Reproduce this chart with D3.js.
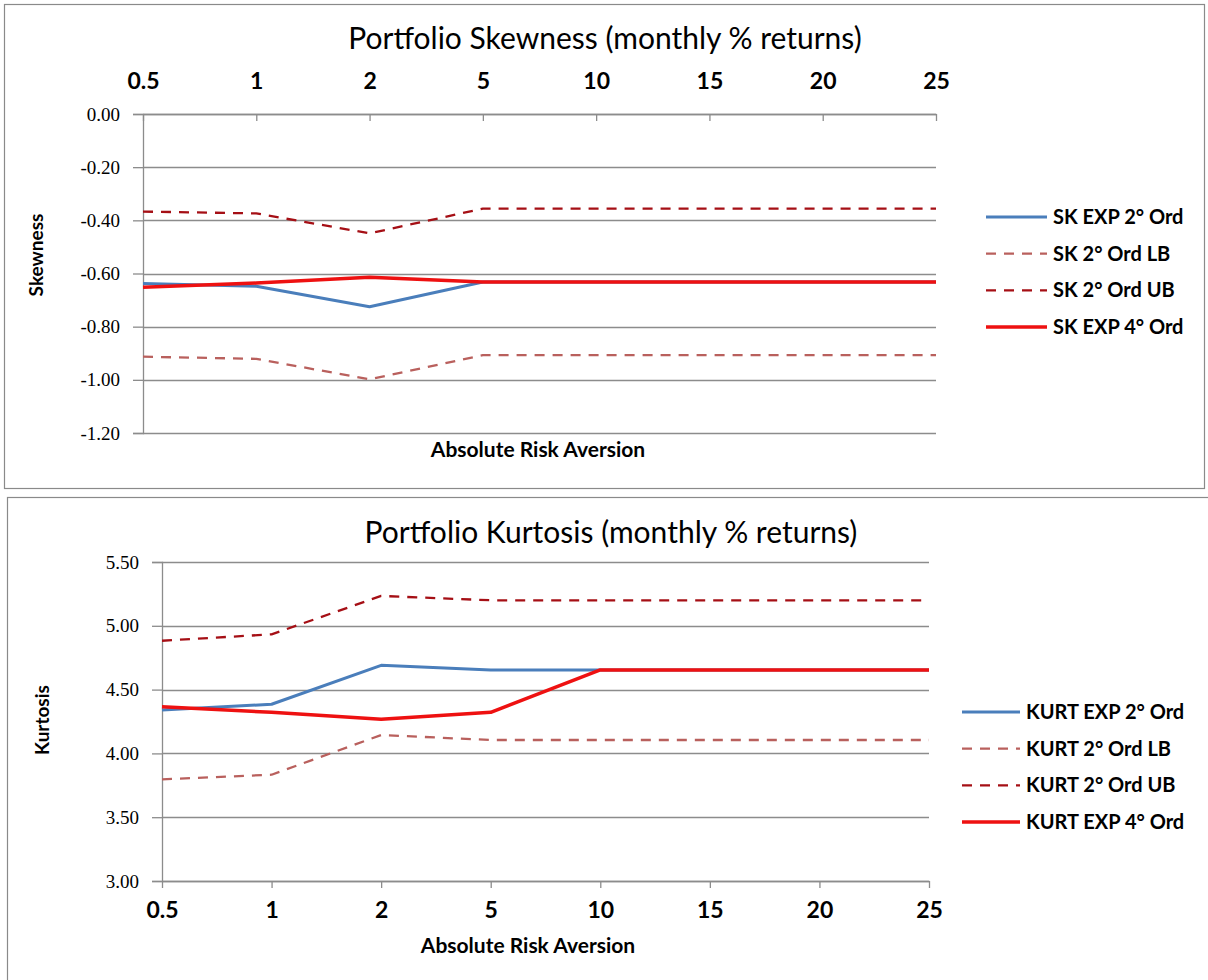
<!DOCTYPE html>
<html>
<head>
<meta charset="utf-8">
<script src="https://cdn.jsdelivr.net/npm/d3@7"></script>
<style>
  body { margin: 0; background: #fff; }
  svg text { fill: #000; }
</style>
</head>
<body>
<div id="chart"></div>
<script>
// categories (absolute risk aversion)
var xLabels = ["0.5", "1", "2", "5", "10", "15", "20", "25"];

// skewness series
var skExp2 = [-0.638, -0.648, -0.725, -0.632, -0.632, -0.632, -0.632, -0.632];
var skLB   = [-0.913, -0.921, -0.998, -0.907, -0.907, -0.907, -0.907, -0.907];
var skUB   = [-0.367, -0.374, -0.449, -0.356, -0.356, -0.356, -0.356, -0.356];
var skExp4 = [-0.652, -0.636, -0.614, -0.632, -0.632, -0.632, -0.632, -0.632];
var skTicks = [0, -0.2, -0.4, -0.6, -0.8, -1.0, -1.2];

// kurtosis series
var kuExp2 = [4.340, 4.385, 4.690, 4.654, 4.654, 4.654, 4.654, 4.654];
var kuLB   = [3.797, 3.833, 4.144, 4.105, 4.105, 4.105, 4.105, 4.105];
var kuUB   = [4.883, 4.933, 5.234, 5.200, 5.200, 5.200, 5.200, 5.200];
var kuExp4 = [4.366, 4.322, 4.267, 4.322, 4.654, 4.654, 4.654, 4.654];
var kuTicks = [3.0, 3.5, 4.0, 4.5, 5.0, 5.5];

var skNames = ["SK EXP 2° Ord", "SK 2° Ord LB", "SK 2° Ord UB", "SK EXP 4° Ord"];
var kuNames = ["KURT EXP 2° Ord", "KURT 2° Ord LB", "KURT 2° Ord UB", "KURT EXP 4° Ord"];

// line styles, same order as the series
var styles = [
  {color: "#4a7ebb", width: 3, dash: null},
  {color: "#b9605d", width: 2.3, dash: "10,8"},
  {color: "#a50f15", width: 2.3, dash: "10,8"},
  {color: "#ee1111", width: 3.5, dash: null}
];

var sans = "Lato, 'Open Sans', sans-serif";
var serif = "'Liberation Serif', 'DejaVu Serif', serif";
var grid = "#8c8c8c";

var svg = d3.select("#chart")
  .append("svg")
  .attr("width", 1208)
  .attr("height", 980);

// panel frames
svg.append("rect").attr("x", 4.5).attr("y", 4.5).attr("width", 1200).attr("height", 484)
  .attr("fill", "none").attr("stroke", "#8a8a8a").attr("stroke-width", 1.2);
svg.append("rect").attr("x", 7.5).attr("y", 497.5).attr("width", 1210).attr("height", 490)
  .attr("fill", "none").attr("stroke", "#8a8a8a").attr("stroke-width", 1.2);

function drawPanel(cfg) {
  var g = svg.append("g");

  var x = d3.scalePoint().domain(xLabels).range([cfg.left, cfg.right]);
  var y = d3.scaleLinear().domain(cfg.domain).range([cfg.bottom, cfg.top]);

  // horizontal gridlines
  g.selectAll(".grid")
    .data(cfg.ticks)
    .enter()
    .append("line")
    .attr("x1", cfg.left).attr("x2", cfg.right)
    .attr("y1", function(d) { return Math.round(y(d)) + 0.5; })
    .attr("y2", function(d) { return Math.round(y(d)) + 0.5; })
    .attr("stroke", grid).attr("stroke-width", 1.3);

  // y axis
  var ya = g.append("g")
    .attr("transform", "translate(" + cfg.left + ",0)")
    .call(d3.axisLeft(y).tickValues(cfg.ticks).tickSize(10).tickPadding(13)
      .tickFormat(function(d) { return d.toFixed(2); }));
  ya.selectAll("path, line").attr("stroke", grid).attr("stroke-width", 1.3);
  ya.selectAll("text").style("font-family", serif).style("font-size", "19px").attr("fill", "#000");

  // x axis
  var xa;
  if (cfg.xTop) {
    xa = g.append("g")
      .attr("transform", "translate(0," + cfg.top + ")")
      .call(d3.axisTop(x).tickSizeInner(-7).tickSizeOuter(0).tickPadding(25));
  } else {
    xa = g.append("g")
      .attr("transform", "translate(0," + cfg.bottom + ")")
      .call(d3.axisBottom(x).tickSizeInner(7).tickSizeOuter(0).tickPadding(14));
  }
  xa.selectAll("path, line").attr("stroke", grid).attr("stroke-width", 1.3);
  xa.selectAll("text").style("font-family", sans).style("font-size", "23px")
    .style("font-weight", "bold").attr("fill", "#000");

  // series
  var line = d3.line()
    .x(function(d, i) { return x(xLabels[i]); })
    .y(function(d) { return y(d); });

  // draw order: LB, UB, EXP2, EXP4
  [1, 2, 0, 3].forEach(function(k) {
    g.append("path")
      .datum(cfg.series[k])
      .attr("d", line)
      .attr("fill", "none")
      .attr("stroke", styles[k].color)
      .attr("stroke-width", styles[k].width)
      .attr("stroke-dasharray", styles[k].dash)
      .attr("stroke-linejoin", "round");
  });

  // title
  g.append("text")
    .attr("x", cfg.titleX).attr("y", cfg.titleY)
    .attr("text-anchor", "middle")
    .style("font-family", sans).style("font-size", "30px")
    .text(cfg.title);

  // axis titles
  g.append("text")
    .attr("x", cfg.xTitleX).attr("y", cfg.xTitleY)
    .attr("text-anchor", "middle")
    .style("font-family", sans).style("font-size", "21px").style("font-weight", "bold")
    .text("Absolute Risk Aversion");
  g.append("text")
    .attr("transform", "translate(" + cfg.yTitleX + "," + cfg.yTitleY + ") rotate(-90)")
    .attr("text-anchor", "middle")
    .style("font-family", sans).style("font-size", "19px").style("font-weight", "bold")
    .text(cfg.yTitle);

  // legend
  var leg = g.selectAll(".leg")
    .data(cfg.names)
    .enter()
    .append("g")
    .attr("transform", function(d, i) { return "translate(" + cfg.legX + "," + (cfg.legY + i * cfg.legStep) + ")"; });
  leg.append("line")
    .attr("x1", 0).attr("x2", cfg.legLen).attr("y1", 0).attr("y2", 0)
    .attr("stroke", function(d, i) { return styles[i].color; })
    .attr("stroke-width", function(d, i) { return styles[i].width; })
    .attr("stroke-dasharray", function(d, i) { return styles[i].dash ? "10,8" : null; });
  leg.append("text")
    .attr("x", cfg.legLen + 6).attr("y", 0).attr("dy", "0.35em")
    .style("font-family", sans).style("font-size", "20px").style("font-weight", "bold")
    .text(function(d) { return d; });
}

drawPanel({
  left: 143, right: 936, top: 114, bottom: 433,
  domain: [-1.2, 0], ticks: skTicks, xTop: true,
  series: [skExp2, skLB, skUB, skExp4], names: skNames,
  title: "Portfolio Skewness (monthly % returns)", titleX: 605, titleY: 49,
  xTitleX: 538, xTitleY: 457, yTitle: "Skewness", yTitleX: 43, yTitleY: 255,
  legX: 986, legY: 217, legStep: 36.7, legLen: 61
});

drawPanel({
  left: 162, right: 929, top: 562, bottom: 881,
  domain: [3.0, 5.5], ticks: kuTicks, xTop: false,
  series: [kuExp2, kuLB, kuUB, kuExp4], names: kuNames,
  title: "Portfolio Kurtosis (monthly % returns)", titleX: 611, titleY: 543,
  xTitleX: 528, xTitleY: 953, yTitle: "Kurtosis", yTitleX: 49, yTitleY: 720,
  legX: 962, legY: 712, legStep: 36.7, legLen: 58
});
</script>
</body>
</html>
